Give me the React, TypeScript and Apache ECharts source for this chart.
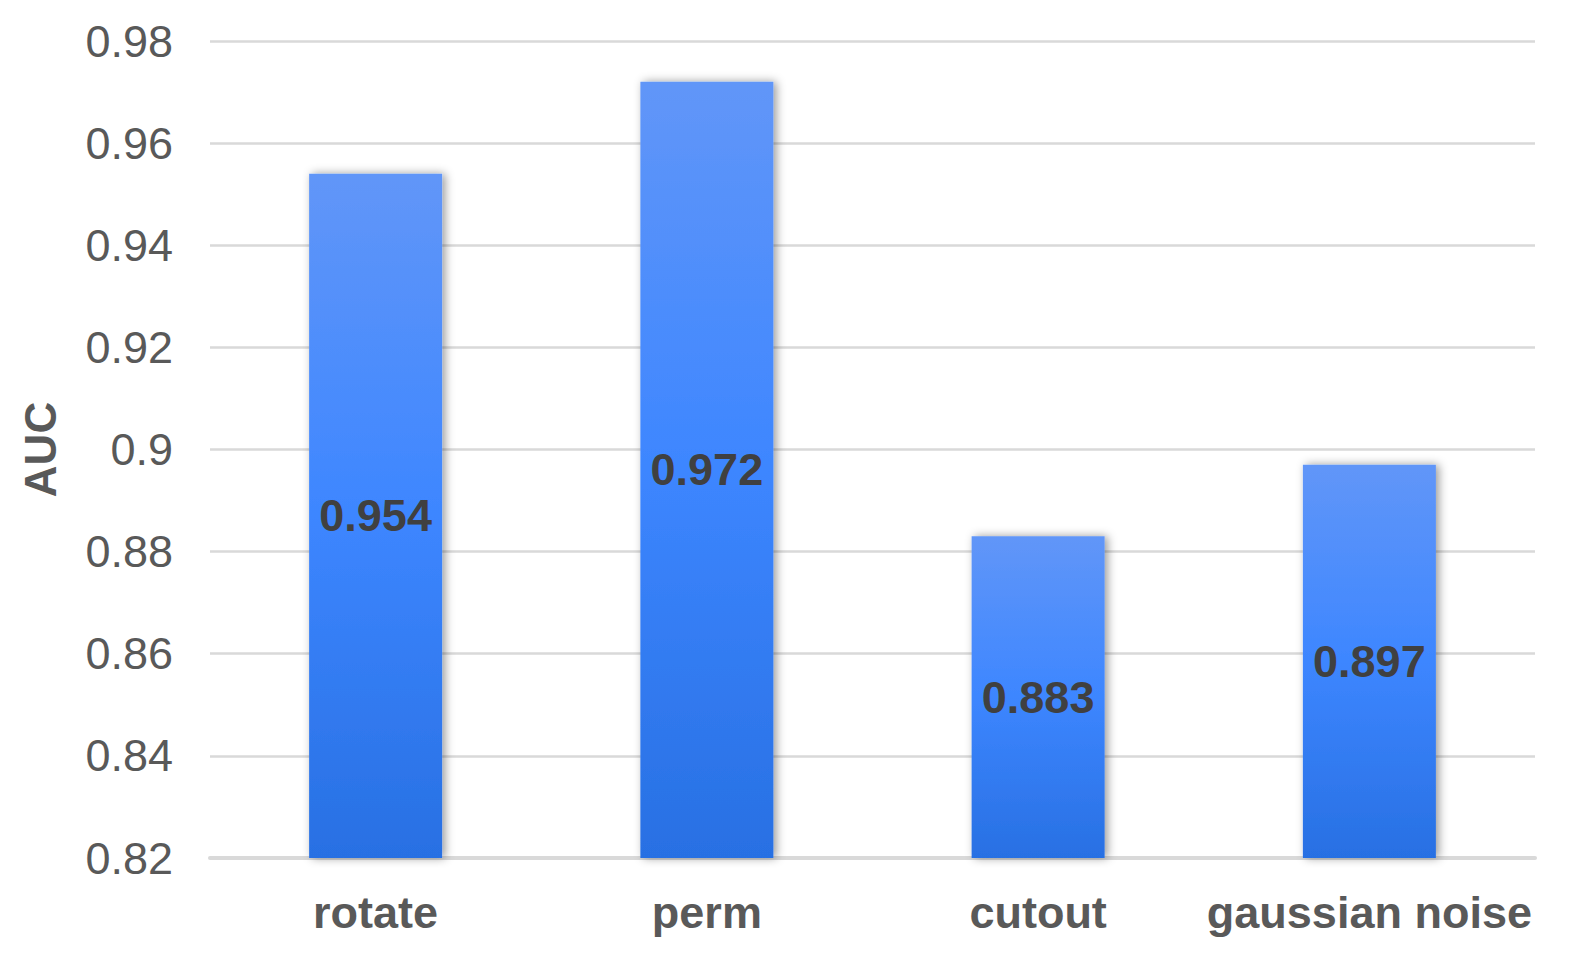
import React, { useEffect, useRef } from "react";
import * as echarts from "echarts";

const categories = ["rotate", "perm", "cutout", "gaussian noise"];
const aucValues = [0.954, 0.972, 0.883, 0.897];
const yMin = 0.82;
const yMax = 0.98;
const yInterval = 0.02;

export default function App() {
  const ref = useRef<HTMLDivElement>(null);
  useEffect(() => {
    document.body.style.margin = "0";
    document.body.style.overflow = "hidden";
    document.documentElement.style.overflow = "hidden";
    const chart = echarts.init(ref.current!, null, { renderer: "svg" });
    const font = "Liberation Sans, Arial, sans-serif";
    chart.setOption({
      animation: false,
      backgroundColor: "#ffffff",
      grid: { left: 210, right: 59, top: 41, bottom: 113, containLabel: false },
      xAxis: {
        type: "category",
        data: categories,
        axisLine: { show: true, lineStyle: { color: "#D9D9D9", width: 4 } },
        axisTick: { show: false },
        axisLabel: {
          color: "#595959",
          fontSize: 45,
          fontWeight: "bold",
          fontFamily: font,
          margin: 32,
          interval: 0,
        },
      },
      yAxis: {
        type: "value",
        min: yMin,
        max: yMax,
        interval: yInterval,
        name: "AUC",
        nameLocation: "middle",
        nameGap: 148,
        nameTextStyle: { color: "#595959", fontSize: 44, fontWeight: "bold", fontFamily: font },
        axisLine: { show: false },
        axisTick: { show: false },
        splitLine: { lineStyle: { color: "#D9D9D9", width: 2.5 } },
        axisLabel: {
          color: "#595959",
          fontSize: 45,
          fontFamily: font,
          margin: 37,
          formatter: (v: number) => String(parseFloat(v.toFixed(2))),
        },
      },
      series: [
        {
          type: "bar",
          data: aucValues,
          barWidth: 133,
          itemStyle: {
            color: new echarts.graphic.LinearGradient(0, 0, 0, 1, [
              { offset: 0, color: "#6196F8" },
              { offset: 0.5, color: "#3D86FF" },
              { offset: 1, color: "#2870E3" },
            ]),
            shadowBlur: 10,
            shadowColor: "rgba(0,0,0,0.4)",
            shadowOffsetX: 3,
            shadowOffsetY: 0,
          },
          label: {
            show: true,
            position: "inside",
            color: "#404040",
            fontSize: 45,
            fontWeight: "bold",
            fontFamily: font,
            formatter: (p: any) => p.value.toFixed(3),
          },
        },
      ],
    });
    return () => chart.dispose();
  }, []);
  return (
    <div
      ref={ref}
      style={{ position: "fixed", left: 0, top: 0, width: 1594, height: 971, background: "#fff" }}
    />
  );
}
